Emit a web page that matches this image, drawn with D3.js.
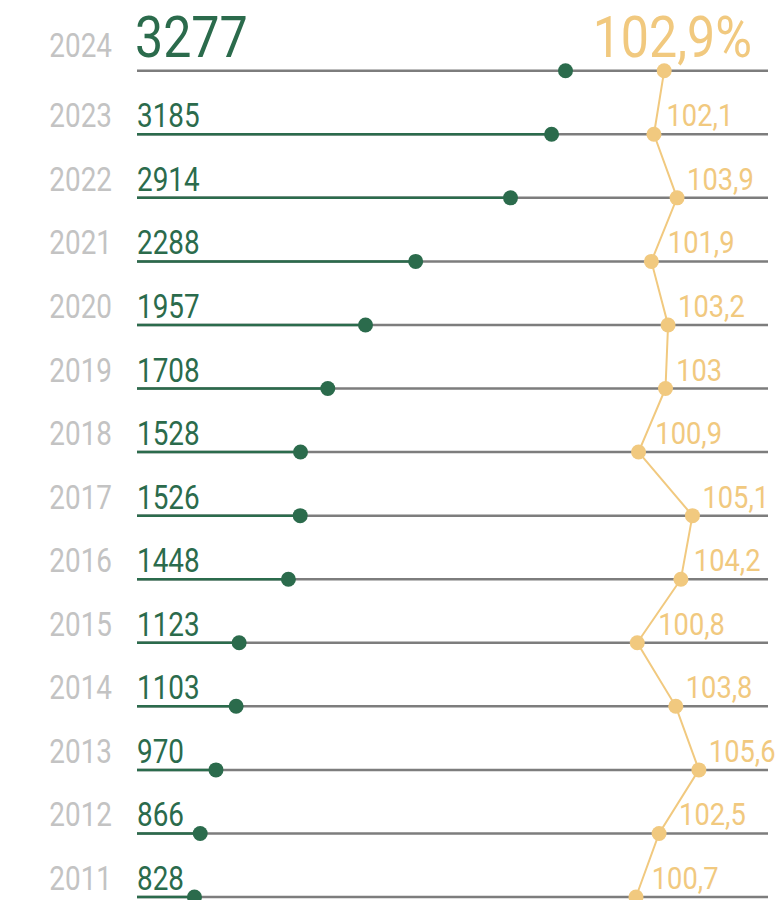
<!DOCTYPE html>
<html lang="ru">
<head>
    <meta charset="UTF-8">
    <title>chart</title>
    <script src="https://cdn.jsdelivr.net/npm/d3@7"></script>
    <style>
        body { margin: 0; background: #fff; }
        text { font-family: Roboto, "Noto Sans", sans-serif; }
    </style>
</head>
<body>
<div id="chart"></div>
<script>
    var years = [2024, 2023, 2022, 2021, 2020, 2019, 2018, 2017, 2016, 2015, 2014, 2013, 2012, 2011];
    var values = [3277, 3185, 2914, 2288, 1957, 1708, 1528, 1526, 1448, 1123, 1103, 970, 866, 828];
    var growth = [102.9, 102.1, 103.9, 101.9, 103.2, 103, 100.9, 105.1, 104.2, 100.8, 103.8, 105.6, 102.5, 100.7];

    var width = 778;
    var height = 900;
    var green = "#2b6b4c";
    var yellow = "#f1c97f";

    var svg = d3.select("#chart")
            .append("svg")
            .attr("width", width)
            .attr("height", height);

    var yScale = d3.scalePoint()
            .domain(years)
            .range([70.7, 897]);

    var xValue = d3.scaleLinear()
            .domain([0, 3300])
            .range([69, 569]);

    var xGrowth = d3.scaleLinear()
            .domain([100, 106])
            .range([627, 704]);

    var lineStart = 137, lineEnd = 768;

    var rows = years.map(function (y, i) {
        return {year: y, value: values[i], growth: growth[i], i: i};
    });

    // grey rule for every row
    svg.selectAll(".rule")
            .data(rows)
            .enter()
            .append("line")
            .attr("x1", lineStart)
            .attr("x2", lineEnd)
            .attr("y1", function (d) { return yScale(d.year); })
            .attr("y2", function (d) { return yScale(d.year); })
            .attr("stroke", "#7d7d7d")
            .attr("stroke-width", 2.5);

    // green part up to the value
    svg.selectAll(".bar")
            .data(rows.slice(1))
            .enter()
            .append("line")
            .attr("x1", lineStart)
            .attr("x2", function (d) { return xValue(d.value); })
            .attr("y1", function (d) { return yScale(d.year); })
            .attr("y2", function (d) { return yScale(d.year); })
            .attr("stroke", green)
            .attr("stroke-width", 2.5);

    // growth line
    var line = d3.line()
            .x(function (d) { return xGrowth(d.growth); })
            .y(function (d) { return yScale(d.year); });

    svg.append("path")
            .datum(rows)
            .attr("d", line)
            .attr("fill", "none")
            .attr("stroke", yellow)
            .attr("stroke-width", 2);

    svg.selectAll(".vdot")
            .data(rows)
            .enter()
            .append("circle")
            .attr("cx", function (d) { return xValue(d.value); })
            .attr("cy", function (d) { return yScale(d.year); })
            .attr("r", 7.5)
            .attr("fill", green);

    svg.selectAll(".gdot")
            .data(rows)
            .enter()
            .append("circle")
            .attr("cx", function (d) { return xGrowth(d.growth); })
            .attr("cy", function (d) { return yScale(d.year); })
            .attr("r", 7.5)
            .attr("fill", yellow);

    // roboto is wider than the condensed face of the original, so squeeze it
    function squeezed(sel, x, y, k) {
        return sel.attr("transform", function (d) {
            return "translate(" + x(d) + "," + y(d) + ") scale(" + k + ",1)";
        });
    }

    function fmt(v) {
        return String(v).replace(".", ",");
    }

    // year labels
    squeezed(svg.selectAll(".year")
            .data(rows)
            .enter()
            .append("text"),
            function () { return 112; },
            function (d) { return d.i === 0 ? 57 : yScale(d.year) - 7; }, 0.82)
            .attr("text-anchor", "end")
            .attr("font-size", 34)
            .attr("fill", "#c3c3c3")
            .text(function (d) { return d.year; });

    // value labels
    squeezed(svg.selectAll(".val")
            .data(rows.slice(1))
            .enter()
            .append("text"),
            function () { return 137; },
            function (d) { return yScale(d.year) - 7; }, 0.82)
            .attr("font-size", 34)
            .attr("fill", green)
            .text(function (d) { return d.value; });

    squeezed(svg.selectAll(".valtop")
            .data(rows.slice(0, 1))
            .enter()
            .append("text"),
            function () { return 135; },
            function () { return 57; }, 0.88)
            .attr("font-size", 57)
            .attr("fill", green)
            .text(function (d) { return d.value; });

    // growth labels: sit right of the line where it crosses the label
    var step = yScale.step();
    function labelX(d) {
        var x = xGrowth(d.growth);
        var xa = xGrowth(rows[d.i - 1].growth);
        var atLabel = x + (xa - x) * 16 / step;
        return Math.max(x, atLabel) + 10;
    }

    squeezed(svg.selectAll(".gr")
            .data(rows.slice(1))
            .enter()
            .append("text"),
            labelX,
            function (d) { return yScale(d.year) - 8; }, 0.88)
            .attr("font-size", 31)
            .attr("fill", yellow)
            .text(function (d) { return fmt(d.growth); });

    squeezed(svg.selectAll(".grtop")
            .data(rows.slice(0, 1))
            .enter()
            .append("text"),
            function () { return 752; },
            function () { return 57; }, 0.88)
            .attr("text-anchor", "end")
            .attr("font-size", 57)
            .attr("fill", yellow)
            .text(function (d) { return fmt(d.growth) + "%"; });
</script>
</body>
</html>
